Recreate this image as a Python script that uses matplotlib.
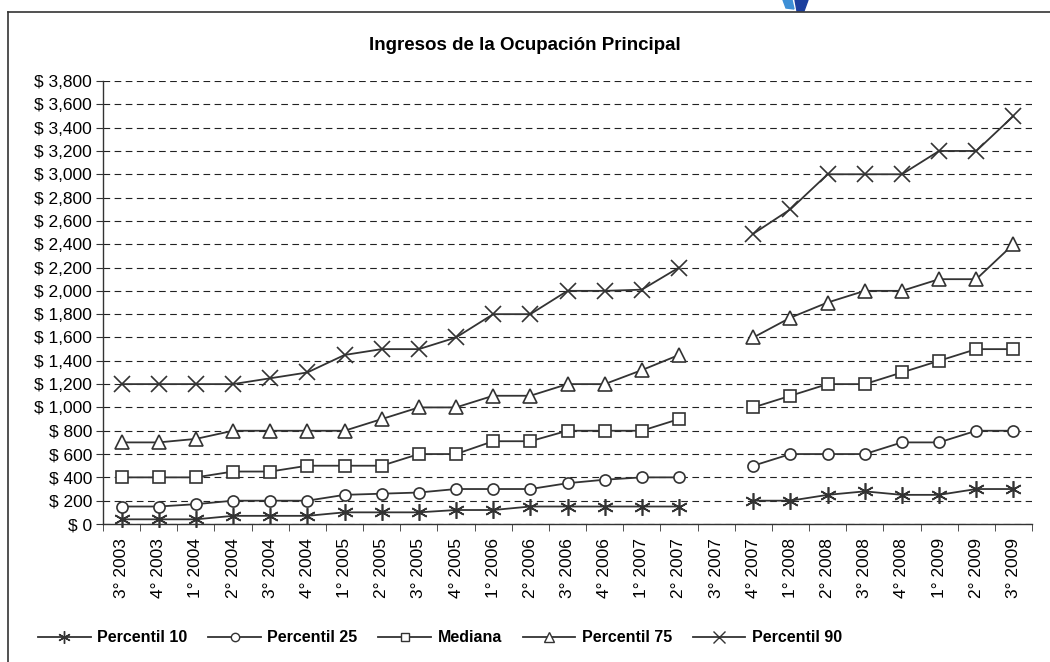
"""Ingresos de la Ocupacion Principal - percentiles por trimestre."""

import matplotlib
import numpy as np

matplotlib.use("Agg")
matplotlib.rcParams["font.family"] = ["Liberation Sans", "DejaVu Sans"]
import matplotlib.pyplot as plt  # noqa: E402
from matplotlib.patches import Polygon  # noqa: E402
from matplotlib.lines import Line2D  # noqa: E402

nan = np.nan

QUARTERS = [
    "3° 2003", "4° 2003", "1° 2004", "2° 2004", "3° 2004", "4° 2004",
    "1° 2005", "2° 2005", "3° 2005", "4° 2005", "1° 2006", "2° 2006",
    "3° 2006", "4° 2006", "1° 2007", "2° 2007", "3° 2007", "4° 2007",
    "1° 2008", "2° 2008", "3° 2008", "4° 2008", "1° 2009", "2° 2009",
    "3° 2009",
]
P10 = [40, 40, 40, 70, 70, 70, 100, 100, 100, 120, 120, 150, 150, 150, 150, 150,
       nan, 200, 200, 250, 280, 250, 250, 300, 300]
P25 = [150, 150, 170, 200, 200, 200, 250, 260, 270, 300, 300, 300, 350, 380, 400, 400,
       nan, 500, 600, 600, 600, 700, 700, 800, 800]
MEDIANA = [400, 400, 400, 450, 450, 500, 500, 500, 600, 600, 710, 710, 800, 800, 800, 900,
           nan, 1000, 1100, 1200, 1200, 1300, 1400, 1500, 1500]
P75 = [700, 700, 730, 800, 800, 800, 800, 900, 1000, 1000, 1100, 1100, 1200, 1200, 1320, 1450,
       nan, 1600, 1770, 1900, 2000, 2000, 2100, 2100, 2400]
P90 = [1200, 1200, 1200, 1200, 1250, 1300, 1450, 1500, 1500, 1600, 1800, 1800, 2000, 2000, 2010, 2200,
       nan, 2490, 2700, 3000, 3000, 3000, 3200, 3200, 3500]

SERIES = [
    ("Percentil 10", P10, (6, 2, 0), 12, "none"),
    ("Percentil 25", P25, "o", 8, "white"),
    ("Mediana", MEDIANA, "s", 8, "white"),
    ("Percentil 75", P75, "^", 9.5, "white"),
    ("Percentil 90", P90, "x", 11, "none"),
]
INK = "#333333"

fig = plt.figure(figsize=(10.5, 6.62), dpi=100)
W, H = 1050, 662
ax = fig.add_axes([103 / W, 1 - 524 / H, (1032 - 103) / W, (524 - 81) / H])

x = np.arange(len(QUARTERS))
for name, vals, mk, ms, fc in SERIES:
    ax.plot(x, vals, color=INK, lw=1.3, marker=mk, ms=ms, mfc=fc, mec=INK,
            mew=1.2, label=name, zorder=3, clip_on=False)

ax.set_xlim(-0.5, len(QUARTERS) - 0.5)
ax.set_ylim(0, 3800)
yt = np.arange(0, 3801, 200)
ax.set_yticks(yt)
ax.set_yticklabels([f"$ {v:,.0f}" for v in yt], fontsize=12.5)
ax.yaxis.grid(True, color="#222222", lw=0.8, ls=(0, (6, 4)))
ax.set_axisbelow(True)

ax.set_xticks(x)
ax.set_xticklabels(QUARTERS, rotation=90, fontsize=12.5)
ax.set_xticks(np.arange(-0.5, len(QUARTERS), 1), minor=True)
ax.tick_params(axis="x", which="major", length=0, pad=10)
ax.tick_params(axis="x", which="minor", length=5, direction="out", color=INK)
ax.tick_params(axis="y", length=5, direction="out", color=INK, pad=3)

for s in ("top", "right"):
    ax.spines[s].set_visible(False)
for s in ("left", "bottom"):
    ax.spines[s].set_color(INK)
    ax.spines[s].set_linewidth(1.0)

fig.text(0.5, 1 - 45 / H, "Ingresos de la Ocupación Principal", ha="center",
         va="center", fontsize=13.5, fontweight="bold")

handles = [Line2D([0], [0], color=INK, lw=1.3, marker=mk, ms=ms * 0.75, mfc=fc,
                  mec=INK, mew=1.0) for _, _, mk, ms, fc in SERIES]
fig.legend(handles, [s[0] for s in SERIES], loc="center", ncol=5,
           bbox_to_anchor=(440 / W, 1 - 638 / H), frameon=False,
           prop={"weight": "bold", "size": 11.5}, handlelength=3.3,
           handletextpad=0.4, columnspacing=1.3)

# chart area border (top and left edges visible in the crop)
fig.add_artist(Line2D([8 / W, 1], [1 - 12 / H, 1 - 12 / H], color=INK, lw=1.2))
fig.add_artist(Line2D([8 / W, 8 / W], [0, 1 - 12 / H], color=INK, lw=1.2))

# fragment of logo above the frame
fig.add_artist(Polygon([[783 / W, 1], [792 / W, 1], [794 / W, 1 - 9 / H], [786 / W, 1 - 8 / H]],
                       closed=True, color="#3d8fd6", transform=fig.transFigure))
fig.add_artist(Polygon([[795 / W, 1], [808 / W, 1], [804 / W, 1 - 11 / H], [797 / W, 1 - 11 / H]],
                       closed=True, color="#1c3f9e", transform=fig.transFigure))

fig.savefig("out.png", dpi=100)
